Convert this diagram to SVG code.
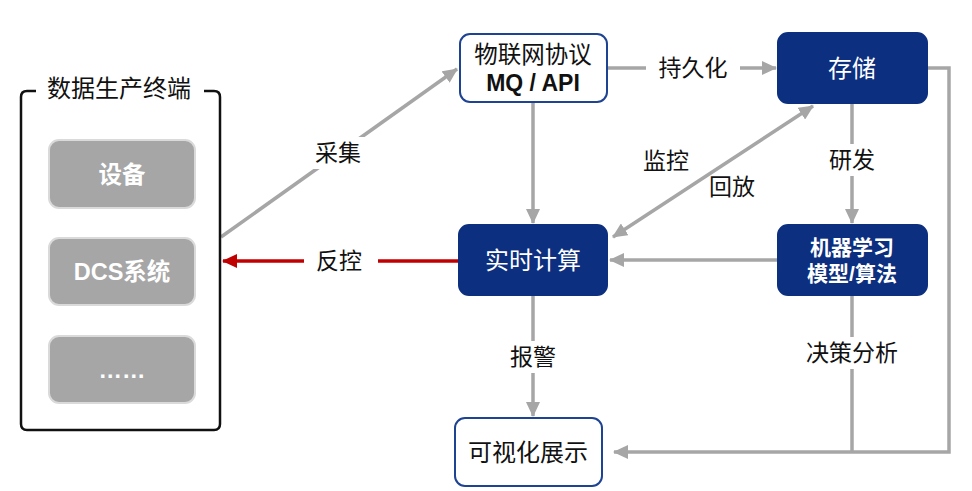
<svg xmlns="http://www.w3.org/2000/svg" width="972" height="491" viewBox="0 0 972 491">
<defs>
<style>
.t{font-family:"Liberation Sans","Noto Sans CJK SC",sans-serif;text-anchor:middle;dominant-baseline:central}
.lbl{font-size:23px;fill:#111}
.g{fill:#a6a6a6;stroke:#dadada;stroke-width:2}
.gt{font-size:23.5px;font-weight:bold;fill:#fff}
.dk{fill:#0c2f7f;stroke:#0c2f7f;stroke-width:2}
.wh{fill:#fff;stroke:#1f4393;stroke-width:2}
.c{fill:none;stroke:#a6a6a6;stroke-width:3.5}
.bg{fill:#fff}
</style>
<marker id="ag" markerUnits="userSpaceOnUse" markerWidth="16" markerHeight="14" refX="14" refY="7" orient="auto-start-reverse"><path d="M0,0 L15,7 L0,14 z" fill="#a6a6a6"/></marker>
<marker id="ar" markerUnits="userSpaceOnUse" markerWidth="16" markerHeight="14" refX="14" refY="7" orient="auto"><path d="M0,0 L15,7 L0,14 z" fill="#c00000"/></marker>
</defs>
<rect width="972" height="491" fill="#fff"/>
<g id="connectors">
<line class="c" x1="221" y1="237" x2="457" y2="69" marker-end="url(#ag)"/>
<line x1="459" y1="261" x2="223" y2="261" stroke="#c00000" stroke-width="3.5" marker-end="url(#ar)"/>
<line class="c" x1="607" y1="68" x2="776" y2="68" marker-end="url(#ag)"/>
<line class="c" x1="533" y1="102" x2="533" y2="223" marker-end="url(#ag)"/>
<line class="c" x1="852" y1="103" x2="852" y2="223" marker-end="url(#ag)"/>
<line class="c" x1="613" y1="237" x2="813" y2="106" marker-start="url(#ag)" marker-end="url(#ag)"/>
<line class="c" x1="778" y1="260" x2="610" y2="260" marker-end="url(#ag)"/>
<line class="c" x1="533" y1="295" x2="533" y2="416" marker-end="url(#ag)"/>
<line class="c" x1="852" y1="295" x2="852" y2="452"/>
<polyline class="c" points="927,68 949,68 949,452 614,452" marker-end="url(#ag)"/>
<rect class="bg" x="304" y="137" width="70" height="32"/>
<text class="t lbl" x="338" y="153">采集</text>
<rect class="bg" x="304" y="245" width="74" height="32"/>
<text class="t lbl" x="339" y="261">反控</text>
<rect class="bg" x="646" y="52" width="94" height="32"/>
<rect class="bg" x="820" y="144" width="64" height="32"/>
<text class="t lbl" x="693" y="68">持久化</text>
<text class="t lbl" x="852" y="160">研发</text>
<text class="t lbl" x="666" y="161">监控</text>
<text class="t lbl" x="732" y="187">回放</text>
<rect class="bg" x="501" y="341" width="64" height="32"/>
<text class="t lbl" x="533" y="357">报警</text>
<rect class="bg" x="800" y="337" width="104" height="32"/>
<text class="t lbl" x="852" y="353">决策分析</text>
</g>
<g id="terminal">
<path d="M36,91 L27,91 Q21,91 21,97 L21,424 Q21,430 27,430 L214,430 Q220,430 220,424 L220,97 Q220,91 214,91 L204,91" fill="none" stroke="#111" stroke-width="2.5"/>
<text class="t" x="119" y="88" font-size="24" fill="#111">数据生产终端</text>
</g>
<g id="device"><rect class="g" x="49" y="140" width="146" height="68" rx="10"/><text class="t gt" x="122" y="175">设备</text></g>
<g id="dcs"><rect class="g" x="49" y="238" width="146" height="67" rx="10"/><text class="t gt" x="122" y="272">DCS系统</text></g>
<g id="more"><rect class="g" x="49" y="336" width="146" height="67" rx="10"/><text class="t gt" x="122" y="370">……</text></g>
<g id="iot"><rect class="wh" x="460" y="34" width="147" height="68" rx="10"/><text class="t" x="533" y="55" font-size="23.5" fill="#111">物联网协议</text><text class="t" x="533" y="83" font-size="23" font-weight="bold" fill="#111">MQ / API</text></g>
<g id="storage"><rect class="dk" x="778" y="33" width="149" height="70" rx="10"/><text class="t" x="852" y="68" font-size="24" fill="#fff">存储</text></g>
<g id="compute"><rect class="dk" x="459" y="225" width="148" height="70" rx="10"/><text class="t" x="533" y="260" font-size="24" fill="#fff">实时计算</text></g>
<g id="ml"><rect class="dk" x="778" y="225" width="149" height="70" rx="10"/><text class="t" x="852" y="247" font-size="21" font-weight="bold" fill="#fff">机器学习</text><text class="t" x="852" y="273" font-size="21" font-weight="bold" fill="#fff">模型/算法</text></g>
<g id="viz"><rect class="wh" x="455" y="418" width="147" height="68" rx="10"/><text class="t" x="528" y="452" font-size="24" fill="#111">可视化展示</text></g>
</svg>
